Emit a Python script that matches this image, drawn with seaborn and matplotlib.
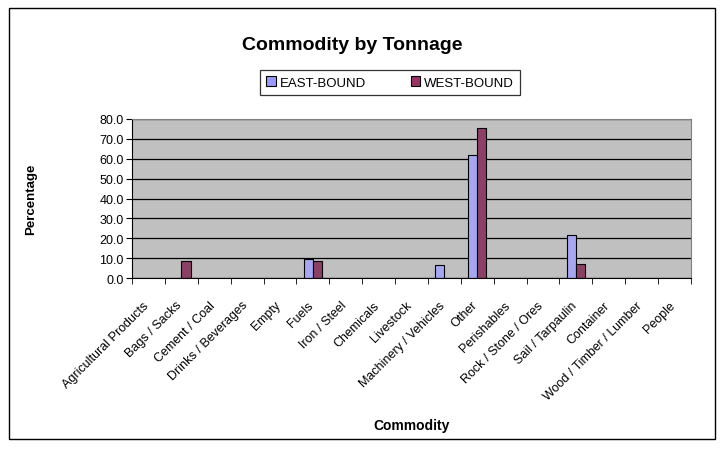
import matplotlib
matplotlib.use("Agg")
import matplotlib.pyplot as plt
import matplotlib.transforms as mtransforms
from matplotlib.patches import Rectangle
from matplotlib.ticker import FormatStrFormatter, FixedLocator
import numpy as np
import pandas as pd
import seaborn as sns

# data
commodities = ["Agricultural Products", "Bags / Sacks", "Cement / Coal", "Drinks / Beverages",
               "Empty", "Fuels", "Iron / Steel", "Chemicals", "Livestock", "Machinery / Vehicles",
               "Other", "Perishables", "Rock / Stone / Ores", "Sail / Tarpaulin", "Container",
               "Wood / Timber / Lumber", "People"]
east_bound = [0, 0, 0, 0, 0, 9.4, 0, 0, 0, 6.5, 61.7, 0, 0, 21.4, 0, 0, 0]
west_bound = [0, 8.4, 0, 0, 0, 8.4, 0, 0, 0, 0, 75.7, 0, 0, 6.9, 0, 0, 0]
series = ["EAST-BOUND", "WEST-BOUND"]
colors = ["#9999FF", "#993366"]

df = pd.DataFrame({
    "Commodity": commodities * 2,
    "Percentage": east_bound + west_bound,
    "Direction": [series[0]] * len(commodities) + [series[1]] * len(commodities),
})

sns.set_style("white")
plt.rcParams["font.family"] = ["Liberation Sans", "DejaVu Sans"]
plt.rcParams["text.color"] = "black"
plt.rcParams["axes.labelcolor"] = "black"
plt.rcParams["xtick.color"] = "black"
plt.rcParams["ytick.color"] = "black"

fig = plt.figure(figsize=(7.27, 4.60), dpi=100)
ax = fig.add_axes([132 / 727, 1 - 279 / 460, (691 - 132) / 727, (279 - 120) / 460])

sns.barplot(data=df, x="Commodity", y="Percentage", hue="Direction", palette=colors,
            width=0.56, gap=0, edgecolor="black", linewidth=0.8, ax=ax, legend=False)
# zero-height bars still draw a line; hide them
for p in ax.patches:
    if p.get_height() == 0:
        p.set_visible(False)

ax.set_facecolor("#C0C0C0")
ax.set_ylim(0, 80)
ax.set_xlim(-0.5, len(commodities) - 0.5)
ax.set_yticks(np.arange(0, 81, 10))
ax.yaxis.set_major_formatter(FormatStrFormatter("%.1f"))
ax.grid(axis="y", color="black", linewidth=0.9)
ax.set_axisbelow(True)
for side in ["top", "right"]:
    ax.spines[side].set_color("#808080")
ax.spines["left"].set_color("black")
ax.spines["bottom"].set_color("black")

ax.tick_params(axis="y", direction="out", length=4, labelsize=9, pad=2, left=True)
ax.tick_params(axis="x", which="major", length=0, labelsize=9, pad=15)
ax.xaxis.set_minor_locator(FixedLocator(np.arange(-0.5, len(commodities), 1)))
ax.tick_params(axis="x", which="minor", direction="out", length=4, bottom=True)
ax.set_xticks(range(len(commodities)))
ax.set_xticklabels(commodities, rotation=45, ha="right", rotation_mode="anchor")
shift = mtransforms.ScaledTranslation(-4 / 72, 0, fig.dpi_scale_trans)
for lbl in ax.get_xticklabels():
    lbl.set_transform(lbl.get_transform() + shift)

ax.set_xlabel("Commodity", fontsize=10, fontweight="bold")
ax.set_ylabel("Percentage", fontsize=9.5, fontweight="bold")
ax.xaxis.set_label_coords(0.5, -0.88)
ax.yaxis.set_label_coords(-0.17, 0.5)

fig.text(352 / 727, 1 - 46 / 460, "Commodity by Tonnage", ha="center", va="center",
         fontsize=14, fontweight="bold")

handles = [Rectangle((0, 0), 1, 1, facecolor=c, edgecolor="black", linewidth=0.8) for c in colors]
leg = fig.legend(handles, series, loc="center", bbox_to_anchor=(390 / 727, 1 - 83.5 / 460),
                 ncol=2, fontsize=9.5, frameon=True, fancybox=False, handlelength=0.7,
                 handleheight=0.7, handletextpad=0.3, columnspacing=3.4, borderpad=0.45)
leg.get_frame().set_edgecolor("black")
leg.get_frame().set_linewidth(0.9)

fig.patches.append(Rectangle((9 / 727, 1 - 440 / 460), (715 - 9) / 727, (440 - 9) / 460,
                             transform=fig.transFigure, fill=False, edgecolor="black",
                             linewidth=1))

fig.savefig("out.png", dpi=100)
